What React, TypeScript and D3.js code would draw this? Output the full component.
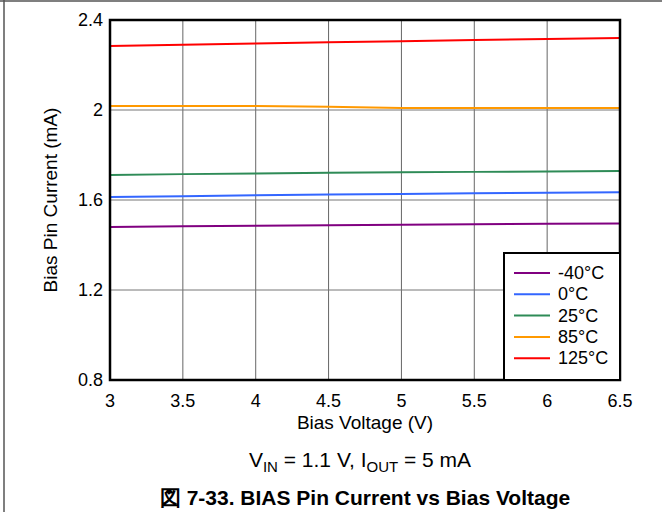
import React from "react";
import * as d3 from "d3";

const xTicks = [3, 3.5, 4, 4.5, 5, 5.5, 6, 6.5];
const yTicks = [0.8, 1.2, 1.6, 2, 2.4];
const seriesNames = ["-40°C", "0°C", "25°C", "85°C", "125°C"];
const seriesColors = ["#800080", "#3366ff", "#2e8b57", "#ff9900", "#ff0000"];
const biasV = [3, 3.5, 4, 4.5, 5, 5.5, 6, 6.5];
const iM40 = [1.48, 1.483, 1.486, 1.488, 1.49, 1.492, 1.494, 1.496];
const i0 = [1.613, 1.617, 1.621, 1.624, 1.627, 1.63, 1.632, 1.634];
const i25 = [1.711, 1.715, 1.718, 1.721, 1.723, 1.725, 1.727, 1.729];
const i85 = [2.018, 2.018, 2.018, 2.014, 2.009, 2.009, 2.009, 2.009];
const i125 = [2.284, 2.29, 2.296, 2.301, 2.306, 2.311, 2.316, 2.32];
const allSeries = [iM40, i0, i25, i85, i125];

const W = 662, H = 512;
const L = 110, R = 620, T = 20, B = 380;
const FONT = "'Liberation Sans', Arial, sans-serif";

export default function App() {
  const x = d3.scaleLinear().domain([3, 6.5]).range([L, R]);
  const y = d3.scaleLinear().domain([0.8, 2.4]).range([B, T]);
  const line = d3.line<number>().x((_, i) => x(biasV[i])).y((d) => y(d));
  const legX = 504, legY = 253, legW = 116, legH = 127;
  return (
    <div style={{ position: "absolute", left: 0, top: 0 }}>
      <svg width={W} height={H} style={{ display: "block" }} fontFamily={FONT}>
        <rect x={0} y={0} width={W} height={H} fill="#fff" />
        <line x1={0} x2={W} y1={1} y2={1} stroke="#000" strokeWidth={1.2} />
        <line x1={4} x2={4} y1={0} y2={H} stroke="#555" strokeWidth={1.5} />
        {xTicks.slice(1, -1).map((t) => (
          <line key={"gx" + t} x1={x(t)} x2={x(t)} y1={T} y2={B} stroke="#666" strokeWidth={1} />
        ))}
        {yTicks.slice(1, -1).map((t) => (
          <line key={"gy" + t} x1={L} x2={R} y1={y(t)} y2={y(t)} stroke="#777" strokeWidth={1} />
        ))}
        {allSeries.map((s, i) => (
          <path key={i} d={line(s) || ""} fill="none" stroke={seriesColors[i]} strokeWidth={2} />
        ))}
        <rect x={L} y={T} width={R - L} height={B - T} fill="none" stroke="#000" strokeWidth={2.5} />
        {xTicks.map((t) => (
          <text key={"tx" + t} x={x(t)} y={407} textAnchor="middle" fontSize={18}>{t}</text>
        ))}
        {yTicks.map((t) => (
          <text key={"ty" + t} x={103} y={y(t) + 6} textAnchor="end" fontSize={18}>{t}</text>
        ))}
        <text x={365} y={429} textAnchor="middle" fontSize={19}>Bias Voltage (V)</text>
        <text transform={`translate(57,${(T + B) / 2}) rotate(-90)`} textAnchor="middle" fontSize={19}>Bias Pin Current (mA)</text>
        <rect x={legX} y={legY} width={legW} height={legH} fill="#fff" stroke="#000" strokeWidth={2} />
        {seriesNames.map((n, i) => (
          <g key={n}>
            <line x1={514} x2={550} y1={273 + i * 21.3} y2={273 + i * 21.3} stroke={seriesColors[i]} strokeWidth={2} />
            <text x={558} y={273 + i * 21.3 + 6} fontSize={18}>{n}</text>
          </g>
        ))}
        <text x={360} y={467} textAnchor="middle" fontSize={21}>
          V<tspan fontSize={15} dy={5}>IN</tspan><tspan dy={-5}> = 1.1 V, I</tspan><tspan fontSize={15} dy={5}>OUT</tspan><tspan dy={-5}> = 5 mA</tspan>
        </text>
        <text x={365} y={505} textAnchor="middle" fontSize={21} fontWeight="bold">図 7-33. BIAS Pin Current vs Bias Voltage</text>
      </svg>
    </div>
  );
}
